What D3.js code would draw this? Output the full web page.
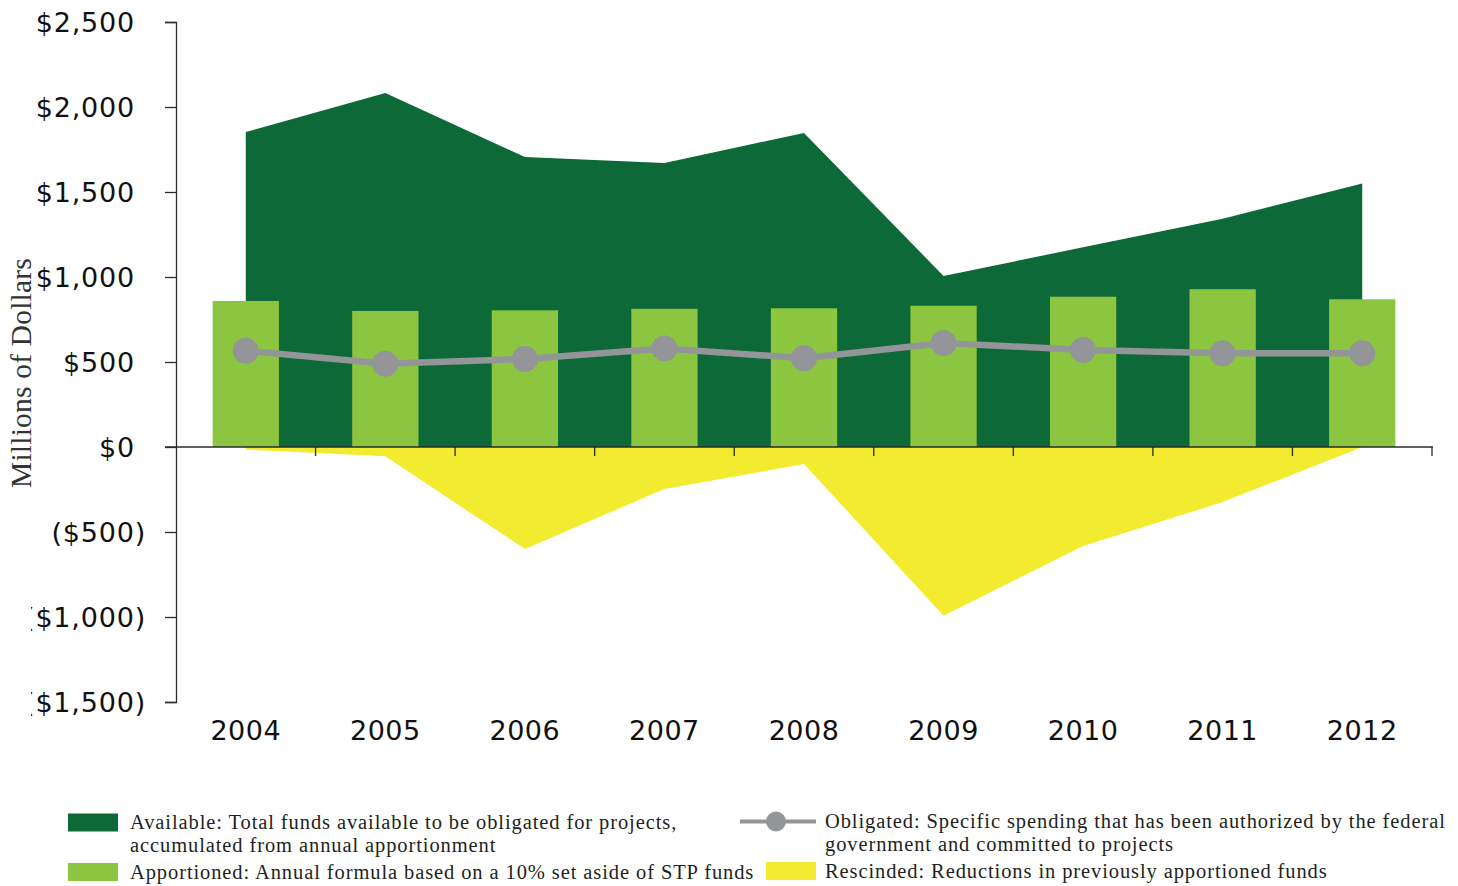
<!DOCTYPE html>
<html>
<head>
<meta charset="utf-8">
<script src="https://cdn.jsdelivr.net/npm/d3@7/dist/d3.min.js"></script>
<style>
  html, body { margin: 0; padding: 0; background: #ffffff; }
  svg { display: block; }
</style>
</head>
<body>
<svg id="chart" width="1458" height="886"></svg>
<script>
// Program funds by fiscal year, millions of dollars
const years = ["2004", "2005", "2006", "2007", "2008", "2009", "2010", "2011", "2012"];
const available = [1853, 2082, 1706, 1671, 1847, 1006, 1175, 1342, 1550];
const apportioned = [859, 800, 804, 813, 816, 831, 884, 928, 869];
const obligated = [566, 490, 518, 580, 522, 612, 571, 551, 551];
const rescinded = [-15, -55, -600, -247, -100, -992, -582, -324, 0];
const yTicks = [2500, 2000, 1500, 1000, 500, 0, -500, -1000, -1500];

const legendItems = [
  { key: "available", lines: ["Available: Total funds available to be obligated for projects,", "accumulated from annual apportionment"] },
  { key: "apportioned", lines: ["Apportioned: Annual formula based on a 10% set aside of STP funds"] },
  { key: "obligated", lines: ["Obligated: Specific spending that has been authorized by the federal", "government and committed to projects"] },
  { key: "rescinded", lines: ["Rescinded: Reductions in previously apportioned funds"] }
];

const colors = {
  available: "#0e6939",
  apportioned: "#8cc640",
  obligated: "#939598",
  rescinded: "#f3eb2f",
  axis: "#2b2b2b",
  text: "#111111"
};

const svg = d3.select("#chart");
const plot = { left: 176, right: 1432, top: 22, bottom: 702 };

const x = d3.scaleBand().domain(years).range([plot.left, plot.right]).padding(0);
const cx = d => x(d) + x.bandwidth() / 2;
const y = d3.scaleLinear().domain([-1500, 2500]).range([plot.bottom, plot.top]);
const barW = x.bandwidth() * 0.475;

// Available: area from zero up to the accumulated total
svg.append("path")
  .datum(years.map((yr, i) => ({ yr, v: available[i] })))
  .attr("fill", colors.available)
  .attr("d", d3.area().x(d => cx(d.yr)).y0(y(0)).y1(d => y(d.v)));

// Rescinded: area from zero down to the reduction
svg.append("path")
  .datum(years.map((yr, i) => ({ yr, v: rescinded[i] })))
  .attr("fill", colors.rescinded)
  .attr("d", d3.area().x(d => cx(d.yr)).y0(y(0)).y1(d => y(d.v)));

// Apportioned bars
svg.append("g").selectAll("rect")
  .data(years.map((yr, i) => ({ yr, v: apportioned[i] })))
  .join("rect")
  .attr("x", d => cx(d.yr) - barW / 2)
  .attr("width", barW)
  .attr("y", d => y(d.v))
  .attr("height", d => y(0) - y(d.v))
  .attr("fill", colors.apportioned);

// Labels run past the left edge of the drawing area and are cut off there
svg.append("clipPath").attr("id", "yLabelClip")
  .append("rect").attr("x", 31 - plot.left).attr("y", 0).attr("width", 1458).attr("height", 886);

// Y axis
const yAxis = svg.append("g")
  .attr("transform", `translate(${plot.left},0)`)
  .attr("clip-path", "url(#yLabelClip)")
  .call(d3.axisLeft(y).tickValues(yTicks).tickSize(11).tickPadding(30)
    .tickFormat(v => v < 0 ? "($" + d3.format(",")(-v) + ")" : "$" + d3.format(",")(v)));
yAxis.select(".domain").attr("stroke", colors.axis).attr("stroke-width", 1.3);
yAxis.selectAll(".tick line").attr("stroke", colors.axis).attr("stroke-width", 1.3);
yAxis.selectAll(".tick text")
  .attr("font-family", "'DejaVu Sans', Verdana, sans-serif")
  .attr("font-size", 27)
  .attr("letter-spacing", 0.8)
  .attr("fill", colors.text)
  .attr("dy", "0.36em")
  .attr("dx", v => v < 0 ? 11 : 0);

// X axis: baseline at zero with ticks at the category boundaries
const xAxis = svg.append("g");
xAxis.append("line")
  .attr("x1", plot.left - 11).attr("x2", plot.right + 1)
  .attr("y1", y(0)).attr("y2", y(0))
  .attr("stroke", colors.axis).attr("stroke-width", 1.4);
xAxis.selectAll("line.tick")
  .data(years)
  .join("line").attr("class", "tick")
  .attr("x1", d => x(d) + x.bandwidth()).attr("x2", d => x(d) + x.bandwidth())
  .attr("y1", y(0)).attr("y2", y(0) + 9)
  .attr("stroke", colors.axis).attr("stroke-width", 1.3);
xAxis.selectAll("text")
  .data(years)
  .join("text")
  .attr("x", d => cx(d))
  .attr("y", 730)
  .attr("dy", "0.36em")
  .attr("text-anchor", "middle")
  .attr("font-family", "'DejaVu Sans', Verdana, sans-serif")
  .attr("font-size", 27)
  .attr("letter-spacing", 0.5)
  .attr("fill", colors.text)
  .text(d => d);

// Obligated line with markers
const obData = years.map((yr, i) => ({ yr, v: obligated[i] }));
svg.append("path")
  .datum(obData)
  .attr("fill", "none")
  .attr("stroke", colors.obligated)
  .attr("stroke-width", 6.5)
  .attr("d", d3.line().x(d => cx(d.yr)).y(d => y(d.v)));
svg.append("g").selectAll("circle")
  .data(obData)
  .join("circle")
  .attr("cx", d => cx(d.yr))
  .attr("cy", d => y(d.v))
  .attr("r", 13)
  .attr("fill", colors.obligated);

// Y axis title
svg.append("text")
  .attr("transform", "translate(21,373) rotate(-90)")
  .attr("text-anchor", "middle")
  .attr("dy", "0.35em")
  .attr("font-family", "'Liberation Serif', 'Times New Roman', serif")
  .attr("font-size", 29.5)
  .attr("letter-spacing", 0.2)
  .attr("fill", "#333333")
  .text("Millions of Dollars");

// Legend
const legend = svg.append("g")
  .attr("font-family", "'Liberation Serif', 'Times New Roman', serif")
  .attr("font-size", 20.5)
  .attr("letter-spacing", 0.9)
  .attr("fill", "#231f20");
const legendPos = {
  available: { sx: 68, tx: 130, y: 822.5 },
  apportioned: { sx: 68, tx: 130, y: 872 },
  obligated: { sx: 740, tx: 825, y: 821.5 },
  rescinded: { sx: 766, tx: 825, y: 871 }
};
legendItems.forEach(item => {
  const p = legendPos[item.key];
  if (item.key === "obligated") {
    legend.append("line")
      .attr("x1", p.sx).attr("x2", p.sx + 76)
      .attr("y1", p.y).attr("y2", p.y)
      .attr("stroke", colors.obligated).attr("stroke-width", 4);
    legend.append("circle")
      .attr("cx", p.sx + 36).attr("cy", p.y).attr("r", 10)
      .attr("fill", colors.obligated);
  } else {
    legend.append("rect")
      .attr("x", p.sx).attr("y", p.y - 9)
      .attr("width", 50).attr("height", 18)
      .attr("fill", colors[item.key]);
  }
  item.lines.forEach((line, j) => {
    legend.append("text")
      .attr("x", p.tx)
      .attr("y", p.y + j * 22.5)
      .attr("dy", "0.32em")
      .text(line);
  });
});
</script>
</body>
</html>
